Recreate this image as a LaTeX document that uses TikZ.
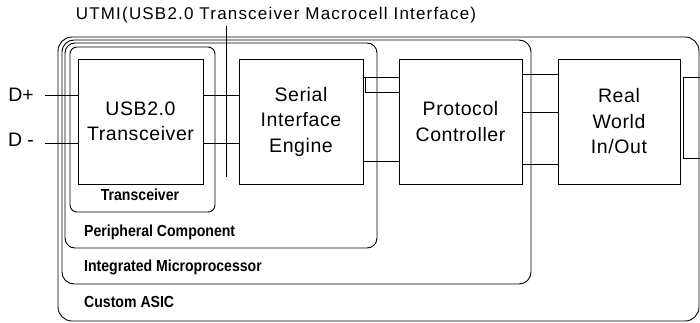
\documentclass[tikz,border=0pt]{standalone}
\usepackage{fontspec}
\setmainfont{Liberation Sans}
\newfontfamily\lblfont[FakeStretch=0.88]{Liberation Sans}
\newfontfamily\utmifont[LetterSpace=7]{Liberation Sans}
\newfontfamily\boxfont[LetterSpace=3]{Liberation Sans}
\tikzset{
  blk/.style={draw, line width=0.9pt, inner sep=0pt, align=center,
    font=\boxfont\fontsize{19.5}{25.5}\selectfont},
  grp/.style={draw, line width=0.9pt, rounded corners=#1, inner sep=0pt},
  lbl/.style={font=\lblfont\bfseries\fontsize{16}{19}\selectfont, inner sep=0pt},
  sig/.style={font=\fontsize{19.5}{21}\selectfont, inner sep=0pt},
  wire/.style={line width=0.9pt},
}
\begin{document}
\begin{tikzpicture}[x=1pt,y=-1pt]
\useasboundingbox (0,0) rectangle (700,323);
% containers
\node[grp=14pt, minimum width=641pt, minimum height=284pt] (asic) at (378.5,179) {};
\node[grp=12pt, minimum width=469pt, minimum height=244pt] (im) at (296.5,162) {};
\node[grp=10pt, minimum width=312pt, minimum height=205pt] (pcomp) at (221,145.5) {};
\node[grp=7pt, minimum width=145pt, minimum height=165pt] (tr) at (142.5,129.5) {};
% container labels
\node[lbl] (trl) at (140,195) {Transceiver};
\node[lbl, anchor=west] (pcl) at (84,232) {Peripheral Component};
\node[lbl, anchor=west] (iml) at (84,267) {Integrated Microprocessor};
\node[lbl, anchor=west] (asicl) at (84,302) {Custom ASIC};
% blocks
\node[blk, minimum width=125pt, minimum height=125pt] (usb) at (140.5,121.5) {USB2.0\\Transceiver};
\node[blk, minimum width=124pt, minimum height=125pt] (sie) at (301,121.5) {Serial\\Interface\\Engine};
\node[blk, minimum width=123pt, minimum height=125pt] (pc) at (460.5,121.5) {Protocol\\Controller};
\node[blk, minimum width=122pt, minimum height=125pt] (rw) at (619,121.5) {Real\\World\\In/Out};
% partial box at right edge
\coordinate (xa) at (700,77);
\coordinate (xb) at (683,77);
\coordinate (xc) at (683,158);
\coordinate (xd) at (700,158);
\draw[wire] (xa) -- (xb) -- (xc) -- (xd);
% UTMI label and line
\node[font=\utmifont\fontsize{17}{19}\selectfont, inner sep=0pt] (utmi) at (276,15) {UTMI(USB2.0 Transceiver Macrocell Interface)};
\coordinate (ut) at (226,26);
\coordinate (ub) at (226,177);
\draw[wire] (ut) -- (ub);
% D+ / D-
\node[sig] (dpl) at (21,95) {D+};
\node[sig] (dml) at (21,140) {D -};
\coordinate (dp) at (45,95);
\coordinate (dm) at (45,143);
\draw[wire] (dp) -- (dp -| usb.west);
\draw[wire] (dm) -- (dm -| usb.west);
% USB - SIE
\coordinate (u1) at (203,95);
\coordinate (u2) at (203,143);
\draw[wire] (u1 -| usb.east) -- (u1 -| sie.west);
\draw[wire] (u2 -| usb.east) -- (u2 -| sie.west);
% SIE - PC
\coordinate (s1) at (365,77);
\coordinate (s2) at (365,92);
\coordinate (s3) at (365,161);
\draw[wire] (s1 -| pc.west) -- (s1) -- (s2) -- (s2 -| pc.west);
\draw[wire] (s1 -| sie.east) -- (s1);
\draw[wire] (s3 -| sie.east) -- (s3 -| pc.west);
% PC - RW
\coordinate (p1) at (530,74);
\coordinate (p2) at (530,112);
\coordinate (p3) at (530,164);
\draw[wire] (p1 -| pc.east) -- (p1 -| rw.west);
\draw[wire] (p2 -| pc.east) -- (p2 -| rw.west);
\draw[wire] (p3 -| pc.east) -- (p3 -| rw.west);
\end{tikzpicture}
\end{document}
